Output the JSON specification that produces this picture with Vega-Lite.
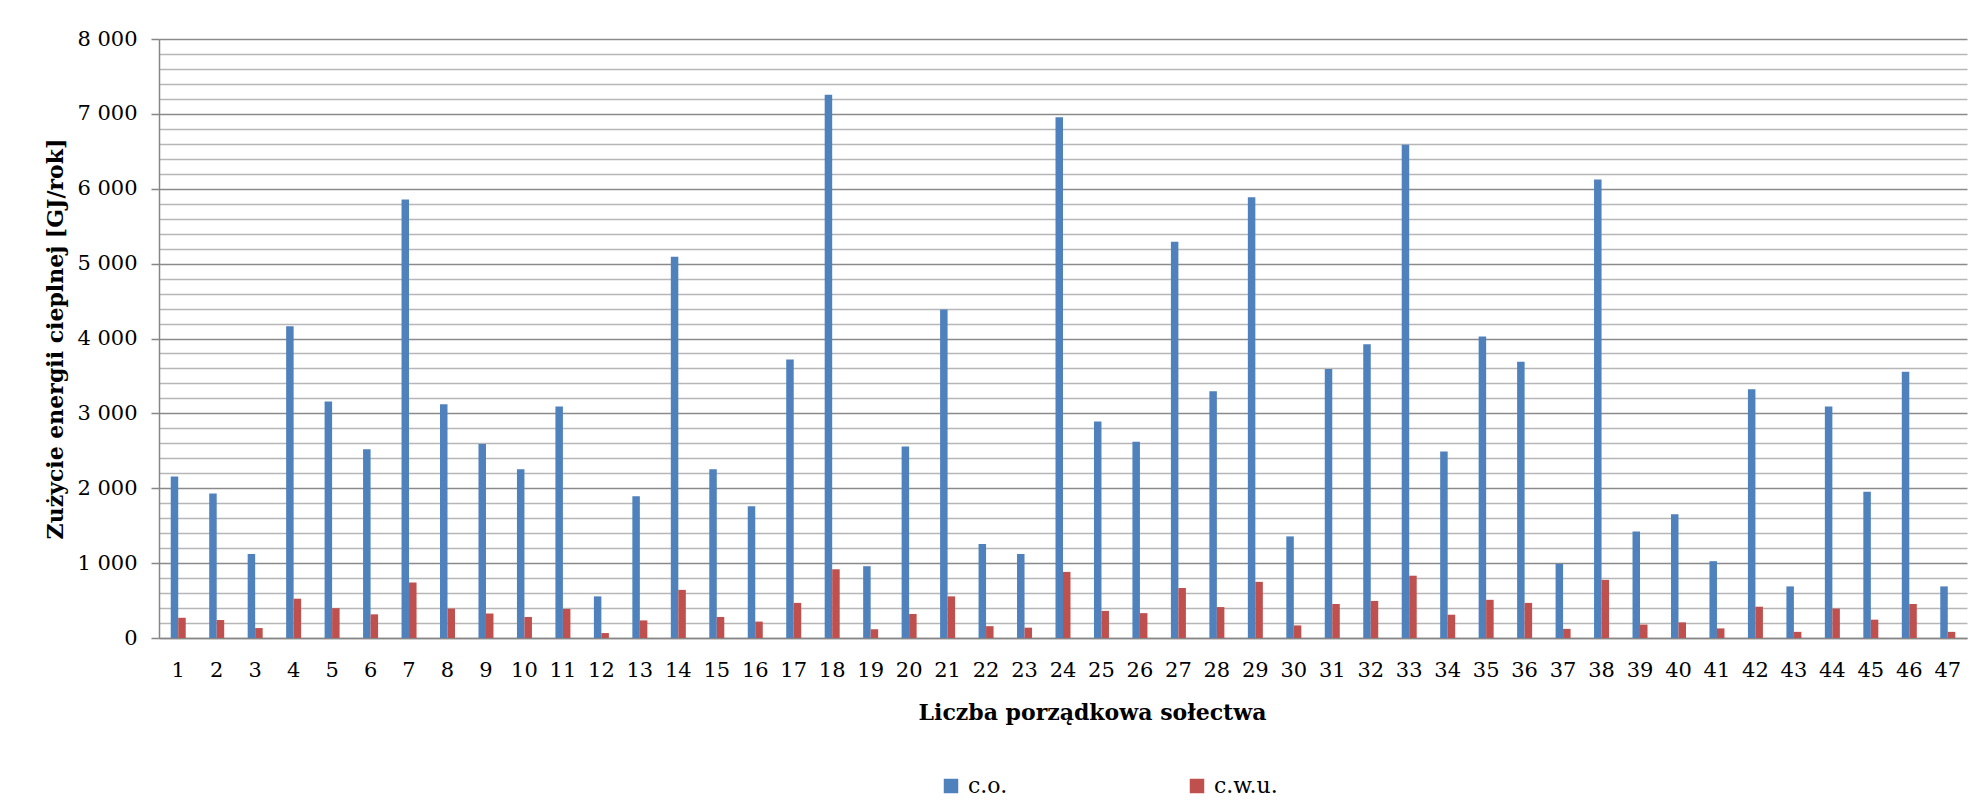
{
  "$schema": "https://vega.github.io/schema/vega-lite/v6.json",
  "width": 1808,
  "height": 599,
  "autosize": {"type": "none"},
  "padding": {"left": 159, "top": 39, "right": 17, "bottom": 168},
  "background": "white",
  "config": {
    "view": {"stroke": null},
    "font": "DejaVu Serif"
  },
  "datasets": {
    "wide": [
      {"n":1,"co":2158,"cwu":270},{"n":2,"co":1929,"cwu":240},{"n":3,"co":1122,"cwu":133},{"n":4,"co":4163,"cwu":525},
      {"n":5,"co":3158,"cwu":398},{"n":6,"co":2520,"cwu":316},{"n":7,"co":5857,"cwu":740},{"n":8,"co":3122,"cwu":393},
      {"n":9,"co":2592,"cwu":327},{"n":10,"co":2255,"cwu":281},{"n":11,"co":3092,"cwu":388},{"n":12,"co":556,"cwu":66},
      {"n":13,"co":1893,"cwu":235},{"n":14,"co":5092,"cwu":643},{"n":15,"co":2255,"cwu":281},{"n":16,"co":1760,"cwu":219},
      {"n":17,"co":3719,"cwu":469},{"n":18,"co":7255,"cwu":918},{"n":19,"co":959,"cwu":117},{"n":20,"co":2556,"cwu":321},
      {"n":21,"co":4388,"cwu":556},{"n":22,"co":1255,"cwu":158},{"n":23,"co":1122,"cwu":138},{"n":24,"co":6954,"cwu":883},
      {"n":25,"co":2893,"cwu":362},{"n":26,"co":2622,"cwu":332},{"n":27,"co":5291,"cwu":668},{"n":28,"co":3296,"cwu":413},
      {"n":29,"co":5888,"cwu":750},{"n":30,"co":1357,"cwu":168},{"n":31,"co":3592,"cwu":454},{"n":32,"co":3923,"cwu":495},
      {"n":33,"co":6587,"cwu":832},{"n":34,"co":2490,"cwu":311},{"n":35,"co":4026,"cwu":510},{"n":36,"co":3689,"cwu":469},
      {"n":37,"co":990,"cwu":122},{"n":38,"co":6122,"cwu":776},{"n":39,"co":1423,"cwu":179},{"n":40,"co":1653,"cwu":209},
      {"n":41,"co":1026,"cwu":128},{"n":42,"co":3321,"cwu":418},{"n":43,"co":689,"cwu":82},{"n":44,"co":3092,"cwu":393},
      {"n":45,"co":1954,"cwu":245},{"n":46,"co":3556,"cwu":454},{"n":47,"co":689,"cwu":82}
    ]
  },
  "data": {"name": "wide"},
  "transform": [
    {"fold": ["co", "cwu"], "as": ["key", "v"]},
    {"lookup": "key", "from": {"data": {"values": [{"key": "co", "typ": "c.o."}, {"key": "cwu", "typ": "c.w.u."}]}, "key": "key", "fields": ["typ"]}}
  ],
  "mark": {"type": "bar"},
  "encoding": {
    "x": {
      "field": "n",
      "type": "ordinal",
      "scale": {"paddingInner": 0.61, "paddingOuter": 0.305},
      "axis": {
        "title": "Liczba porządkowa sołectwa",
        "titleFont": "DejaVu Serif",
        "titleFontSize": 22,
        "titleFontWeight": "bold",
        "titleColor": "black",
        "titlePadding": 22,
        "titleX": 933,
        "labelAngle": 0,
        "labelFont": "DejaVu Serif",
        "labelFontSize": 21,
        "labelColor": "black",
        "labelPadding": 21,
        "ticks": false,
        "domainColor": "#868686",
        "domainWidth": 1.5,
        "grid": false
      }
    },
    "xOffset": {"field": "typ", "type": "nominal", "sort": ["c.o.", "c.w.u."]},
    "y": {
      "field": "v",
      "type": "quantitative",
      "scale": {"domain": [0, 8000], "nice": false},
      "axis": {
        "title": "Zużycie energii cieplnej [GJ/rok]",
        "titleFont": "DejaVu Serif",
        "titleFontSize": 22,
        "titleFontWeight": "bold",
        "titleColor": "black",
        "titlePadding": 9,
        "values": [0,200,400,600,800,1000,1200,1400,1600,1800,2000,2200,2400,2600,2800,3000,3200,3400,3600,3800,4000,4200,4400,4600,4800,5000,5200,5400,5600,5800,6000,6200,6400,6600,6800,7000,7200,7400,7600,7800,8000],
        "labelExpr": "datum.value % 1000 === 0 ? replace(format(datum.value, ','), ',', ' ') : ''",
        "labelFont": "DejaVu Serif",
        "labelFontSize": 21,
        "labelColor": "black",
        "labelPadding": 14,
        "tickSize": 8,
        "tickWidth": 1.5,
        "tickColor": {"condition": {"test": "datum.value % 1000 === 0", "value": "#868686"}, "value": "rgba(0,0,0,0)"},
        "grid": true,
        "gridColor": {"condition": {"test": "datum.value % 1000 === 0", "value": "#8a8a8a"}, "value": "#b6b6b6"},
        "gridWidth": 1.5,
        "domainColor": "#868686",
        "domainWidth": 1.5
      }
    },
    "color": {
      "field": "typ",
      "type": "nominal",
      "scale": {"domain": ["c.o.", "c.w.u."], "range": ["#4F81BD", "#C0504D"]},
      "legend": {
        "title": null,
        "orient": "none",
        "direction": "horizontal",
        "legendX": 781,
        "legendY": 736,
        "padding": 0,
        "symbolType": "square",
        "symbolSize": 210,
        "symbolStrokeWidth": 0,
        "labelFont": "DejaVu Serif",
        "labelFontSize": 22,
        "labelColor": "black",
        "labelOffset": 6,
        "columnPadding": 178
      }
    }
  }
}
